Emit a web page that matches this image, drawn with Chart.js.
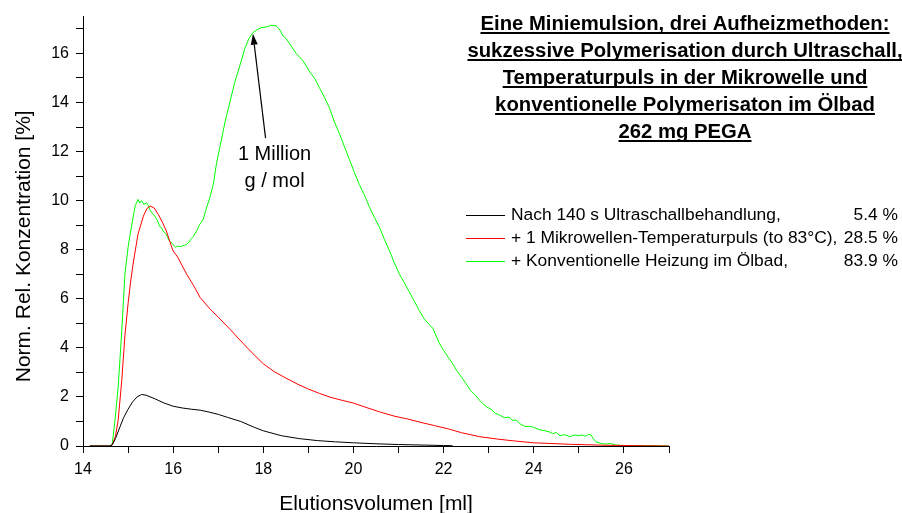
<!DOCTYPE html>
<html>
<head>
<meta charset="utf-8">
<script src="https://cdn.jsdelivr.net/npm/chart.js@4/dist/chart.umd.min.js"></script>
<style>
	html, body { margin: 0; padding: 0; background: #fff; }
	#wrap { width: 902px; height: 513px; position: relative; }
</style>
</head>
<body>
<div id="wrap"><canvas id="gpcChart"></canvas></div>
<script>
// Elutionsvolumen [ml] / normierte Konzentration [%] je Probe

// nach 140 s Ultraschall
var ultraVol  = [14.15, 14.6, 14.65, 14.72, 14.82, 14.9, 15.0, 15.1, 15.2, 15.3, 15.4, 15.6, 15.8, 16.0, 16.2, 16.4, 16.6, 16.8, 17.0, 17.2, 17.5, 17.8, 18.0, 18.4, 18.8, 19.2, 19.6, 20.0, 20.5, 21.0, 21.5, 22.0, 22.2];
var ultraConc = [0, 0, 0.05, 0.3, 0.78, 1.15, 1.5, 1.8, 2.0, 2.1, 2.07, 1.92, 1.75, 1.62, 1.55, 1.5, 1.46, 1.38, 1.29, 1.17, 1.0, 0.76, 0.62, 0.42, 0.3, 0.22, 0.17, 0.13, 0.09, 0.06, 0.04, 0.02, 0.01];

// + 1 Mikrowellen-Temperaturpuls
var mwVol  = [14.15, 14.6, 14.65, 14.72, 14.78, 14.86, 14.93, 15.0, 15.05, 15.11, 15.22, 15.34, 15.42, 15.49, 15.58, 15.67, 15.76, 15.85, 15.96, 16.0, 16.1, 16.2, 16.3, 16.45, 16.6, 16.8, 17.0, 17.25, 17.5, 17.75, 18.0, 18.25, 18.5, 18.75, 19.0, 19.25, 19.5, 19.75, 20.0, 20.3, 20.6, 20.9, 21.2, 21.5, 21.8, 22.1, 22.4, 22.8, 23.2, 23.6, 24.0, 24.4, 24.8, 25.2, 25.6, 26.0, 26.5, 27.0];
var mwConc = [0, 0, 0.05, 0.4, 1.05, 2.68, 4.5, 5.8, 6.6, 7.41, 8.63, 9.37, 9.68, 9.78, 9.7, 9.44, 9.12, 8.76, 8.15, 7.95, 7.7, 7.35, 7.0, 6.55, 6.05, 5.62, 5.25, 4.78, 4.28, 3.8, 3.35, 3.02, 2.77, 2.53, 2.32, 2.14, 1.98, 1.86, 1.75, 1.56, 1.38, 1.22, 1.1, 0.96, 0.83, 0.7, 0.54, 0.38, 0.28, 0.2, 0.13, 0.1, 0.07, 0.05, 0.03, 0.02, 0.01, 0];

// + konventionelle Heizung im Ölbad
var oilVol  = [14.15, 14.6, 14.65, 14.71, 14.78, 14.86, 14.93, 15.0, 15.04, 15.11, 15.16, 15.22, 15.26, 15.3, 15.35, 15.41, 15.45, 15.48, 15.53, 15.59, 15.65, 15.7, 15.74, 15.8, 15.85, 15.9, 15.95, 16.0, 16.05, 16.1, 16.15, 16.2, 16.25, 16.3, 16.35, 16.4, 16.45, 16.52, 16.59, 16.66, 16.74, 16.81, 16.89, 16.96, 17.05, 17.15, 17.25, 17.37, 17.48, 17.59, 17.68, 17.77, 17.85, 17.95, 18.07, 18.18, 18.29, 18.37, 18.44, 18.51, 18.6, 18.73, 18.88, 19.03, 19.15, 19.25, 19.36, 19.47, 19.58, 19.69, 19.8, 19.91, 20.02, 20.13, 20.25, 20.36, 20.47, 20.58, 20.69, 20.8, 20.91, 21.02, 21.13, 21.24, 21.35, 21.46, 21.57, 21.68, 21.76, 21.9, 22.0, 22.1, 22.2, 22.3, 22.4, 22.5, 22.6, 22.7, 22.8, 22.87, 22.95, 23.05, 23.15, 23.24, 23.35, 23.45, 23.52, 23.61, 23.7, 23.8, 23.9, 23.97, 24.05, 24.15, 24.25, 24.34, 24.42, 24.5, 24.58, 24.65, 24.71, 24.8, 24.9, 25.0, 25.08, 25.15, 25.22, 25.27, 25.32, 25.38, 25.5, 25.6, 25.7, 25.82, 26.0, 26.5, 27.0];
var oilConc = [0, 0, 0.1, 1.05, 2.4, 4.7, 7.0, 8.1, 8.56, 9.3, 9.8, 10.05, 9.9, 10.0, 9.85, 9.91, 9.8, 9.64, 9.5, 9.37, 9.2, 8.95, 8.9, 8.7, 8.63, 8.4, 8.3, 8.22, 8.1, 8.15, 8.12, 8.15, 8.18, 8.22, 8.3, 8.45, 8.55, 8.76, 9.03, 9.2, 9.7, 10.1, 10.66, 11.5, 12.3, 13.2, 13.95, 14.85, 15.5, 16.2, 16.6, 16.85, 16.95, 17.05, 17.08, 17.15, 17.12, 16.95, 16.7, 16.6, 16.35, 16.0, 15.7, 15.25, 14.95, 14.58, 14.2, 13.76, 13.2, 12.72, 12.2, 11.68, 11.15, 10.66, 10.2, 9.71, 9.3, 8.9, 8.4, 7.95, 7.45, 7.0, 6.65, 6.28, 5.9, 5.52, 5.18, 4.95, 4.8, 4.2, 3.9, 3.62, 3.35, 3.05, 2.8, 2.54, 2.25, 2.08, 1.85, 1.73, 1.6, 1.5, 1.33, 1.26, 1.15, 1.18, 1.05, 1.05, 0.9, 0.8, 0.8, 0.78, 0.72, 0.65, 0.62, 0.58, 0.5, 0.55, 0.42, 0.45, 0.45, 0.38, 0.45, 0.42, 0.45, 0.4, 0.48, 0.45, 0.3, 0.17, 0.1, 0.08, 0.1, 0.04, 0.02, 0.02, 0];

var seriesLabels = ["Nach 140 s Ultraschallbehandlung,", "+ 1 Mikrowellen-Temperaturpuls (to 83°C),", "+ Konventionelle Heizung im Ölbad,"];
var seriesUmsatz = ["5.4 %", "28.5 %", "83.9 %"];
var seriesColors = ["#000000", "#ff0000", "#00ff00"];

var titleLines = [
	"Eine Miniemulsion, drei Aufheizmethoden:",
	"sukzessive Polymerisation durch Ultraschall,",
	"Temperaturpuls in der Mikrowelle und",
	"konventionelle Polymerisaton im Ölbad",
	"262 mg PEGA"
];

// Pfeil auf das Maximum (Datenkoordinaten)
var markerText = ["1 Million", "g / mol"];
var markerTip  = [17.77, 16.8];
var markerTail = [18.05, 12.55];

var FONT = "'Liberation Sans', Arial, sans-serif";

function toPoints(xs, ys){
	var pts = [];
	for (var i = 0; i < xs.length; i++) pts.push({x: xs[i], y: ys[i]});
	return pts;
}

// Titel, Legende, Pfeil und Achsenbeschriftung selbst zeichnen
var extras = {
	id: "extras",
	afterDraw: function(chart){
		var ctx = chart.ctx;
		var area = chart.chartArea;
		var sx = chart.scales.x, sy = chart.scales.y;
		ctx.save();
		ctx.fillStyle = "#000";

		// Titel, fett und unterstrichen
		ctx.font = "bold 20.3px " + FONT;
		ctx.textAlign = "center";
		ctx.textBaseline = "alphabetic";
		for (var i = 0; i < titleLines.length; i++){
			var ty = 30 + i * 27;
			ctx.fillText(titleLines[i], 685, ty);
			var w = ctx.measureText(titleLines[i]).width;
			ctx.fillRect(685 - w / 2, ty + 2, w, 2);
		}

		// Legende
		ctx.font = "17.4px " + FONT;
		ctx.textBaseline = "middle";
		chart.data.datasets.forEach(function(ds, k){
			var ly = 215 + k * 23;
			ctx.strokeStyle = ds.borderColor;
			ctx.lineWidth = 1;
			ctx.beginPath();
			ctx.moveTo(466, ly + 0.5);
			ctx.lineTo(505, ly + 0.5);
			ctx.stroke();
			ctx.textAlign = "left";
			ctx.fillText(ds.label, 511, ly);
			ctx.textAlign = "right";
			ctx.fillText(seriesUmsatz[k], 898, ly);
		});

		// Pfeil
		var x0 = sx.getPixelForValue(markerTail[0]), y0 = sy.getPixelForValue(markerTail[1]);
		var x1 = sx.getPixelForValue(markerTip[0]), y1 = sy.getPixelForValue(markerTip[1]);
		var ang = Math.atan2(y1 - y0, x1 - x0);
		var head = 11, half = 3.5;
		ctx.strokeStyle = "#000";
		ctx.lineWidth = 1.2;
		ctx.beginPath();
		ctx.moveTo(x0, y0);
		ctx.lineTo(x1 - Math.cos(ang) * head, y1 - Math.sin(ang) * head);
		ctx.stroke();
		ctx.beginPath();
		ctx.moveTo(x1, y1);
		ctx.lineTo(x1 - Math.cos(ang) * head + Math.sin(ang) * half, y1 - Math.sin(ang) * head - Math.cos(ang) * half);
		ctx.lineTo(x1 - Math.cos(ang) * head - Math.sin(ang) * half, y1 - Math.sin(ang) * head + Math.cos(ang) * half);
		ctx.closePath();
		ctx.fill();

		ctx.font = "20px " + FONT;
		ctx.textAlign = "center";
		ctx.textBaseline = "alphabetic";
		ctx.fillText(markerText[0], x0 + 9, y0 + 22);
		ctx.fillText(markerText[1], x0 + 9, y0 + 49);

		// Achsentitel
		ctx.font = "21px " + FONT;
		ctx.fillText("Elutionsvolumen [ml]", (area.left + area.right) / 2, 510);
		ctx.translate(30, (area.top + area.bottom) / 2 + 15);
		ctx.rotate(-Math.PI / 2);
		ctx.fillText("Norm. Rel. Konzentration [%]", 0, 0);
		ctx.restore();
	}
};

function createChart(){
	var ctx = document.getElementById("gpcChart");

	var vols = [ultraVol, mwVol, oilVol];
	var concs = [ultraConc, mwConc, oilConc];
	var datasets = [];
	for (var i = 0; i < 3; i++){
		datasets.push({
			label: seriesLabels[i],
			data: toPoints(vols[i], concs[i]),
			borderColor: seriesColors[i],
			backgroundColor: seriesColors[i],
			borderWidth: 1,
			pointRadius: 0,
			tension: 0,
			fill: false
		});
	}

	var axisTicks = {
		stepSize: 1,
		color: "#000",
		font: { family: FONT, size: 16 },
		padding: 7,
		includeBounds: false,
		maxRotation: 0,
		autoSkip: false,
		callback: function(v){
			if (v % 1 !== 0) return null;
			return v % 2 === 0 ? String(v) : "";
		}
	};

	new Chart(ctx, {
		type: "line",
		data: { datasets: datasets },
		options: {
			responsive: true,
			maintainAspectRatio: false,
			animation: false,
			layout: { padding: { top: 13, right: 233, left: 0, bottom: 0 } },
			plugins: {
				legend: { display: false },
				tooltip: { enabled: false }
			},
			scales: {
				x: {
					type: "linear",
					min: 14,
					max: 27,
					ticks: axisTicks,
					grid: { drawOnChartArea: false, drawTicks: true, tickLength: 7, color: "#000" },
					border: { display: true, color: "#000", width: 1 },
					afterFit: function(scale){ scale.height = 67; }
				},
				y: {
					type: "linear",
					min: 0,
					max: 17.5,
					ticks: axisTicks,
					grid: { drawOnChartArea: false, drawTicks: true, tickLength: 7, color: "#000" },
					border: { display: true, color: "#000", width: 1 },
					afterFit: function(scale){ scale.width = 83; }
				}
			}
		},
		plugins: [extras]
	});
}

createChart();
</script>
</body>
</html>
